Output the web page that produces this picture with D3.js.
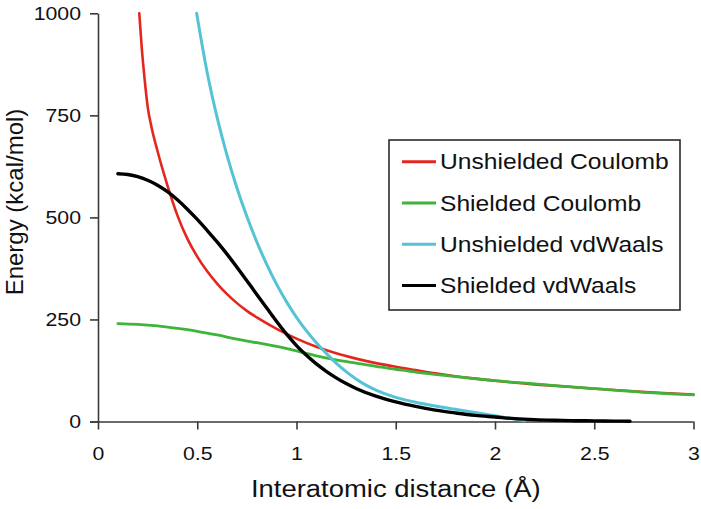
<!DOCTYPE html>
<html>
<head>
<meta charset="utf-8">
<script src="https://cdn.jsdelivr.net/npm/d3@7"></script>
<style>
  html, body { margin: 0; padding: 0; background: #fff; }
  svg { display: block; font-family: "Liberation Sans", Arial, sans-serif; }
</style>
</head>
<body>
<svg id="chart" width="701" height="509"></svg>
<script>
// ---------------- data ----------------
const seriesNames = ["Unshielded Coulomb", "Shielded Coulomb", "Unshielded vdWaals", "Shielded vdWaals"];
const seriesColors = ["#e5261e", "#3fb43a", "#55c3d5", "#000000"];

const unshieldedCoulombX = [0.208, 0.22, 0.235, 0.25, 0.27, 0.3, 0.35, 0.4, 0.45, 0.5, 0.55, 0.6, 0.65, 0.7, 0.75, 0.8, 0.9, 1.0, 1.1, 1.2, 1.3, 1.4, 1.5, 1.6, 1.7, 1.8, 1.9, 2.0, 2.2, 2.4, 2.6, 2.8, 3.0];
const unshieldedCoulombY = [1000, 918, 838, 772, 720, 662, 578, 505, 448, 404, 368, 338, 312, 290, 271, 255, 227, 203, 183, 167, 154, 143, 134, 126, 118, 111, 105, 100, 91, 84, 77, 71, 66];

const shieldedCoulombX = [0.1, 0.2, 0.3, 0.4, 0.5, 0.6, 0.7, 0.8, 0.9, 1.0, 1.1, 1.2, 1.3, 1.4, 1.5, 1.6, 1.8, 2.0, 2.2, 2.4, 2.6, 2.8, 3.0];
const shieldedCoulombY = [240, 238, 234, 228, 221, 212, 202, 193, 184, 173, 161, 151, 143, 135, 128, 121, 110, 100, 92, 84, 77, 70, 65];

const unshieldedVdwX = [0.497, 0.55, 0.6, 0.65, 0.7, 0.75, 0.8, 0.85, 0.9, 0.95, 1.0, 1.05, 1.1, 1.15, 1.2, 1.25, 1.3, 1.35, 1.4, 1.5, 1.6, 1.7, 1.8, 1.9, 2.0, 2.1, 2.15];
const unshieldedVdwY = [1000, 855, 745, 652, 572, 502, 440, 385, 336, 293, 255, 222, 193, 167, 143, 122, 104, 89, 77, 59, 47, 38, 30, 22, 14, 6, 2];

const shieldedVdwX = [0.1, 0.15, 0.2, 0.25, 0.3, 0.35, 0.4, 0.45, 0.5, 0.55, 0.6, 0.65, 0.7, 0.75, 0.8, 0.85, 0.9, 0.95, 1.0, 1.05, 1.1, 1.15, 1.2, 1.25, 1.3, 1.4, 1.5, 1.6, 1.7, 1.8, 1.9, 2.0, 2.1, 2.2, 2.3, 2.4, 2.5, 2.6, 2.68];
const shieldedVdwY = [607, 605, 600, 591, 579, 563, 543, 520, 495, 468, 440, 410, 378, 345, 311, 278, 245, 214, 186, 162, 141, 123, 107, 93, 81, 62, 48, 37, 28, 21, 15, 11, 7, 4.5, 3, 2, 1.5, 1, 0.7];

const xTicks = [0, 0.5, 1, 1.5, 2, 2.5, 3];
const xTickLabels = ["0", "0.5", "1", "1.5", "2", "2.5", "3"];
const yTicks = [0, 250, 500, 750, 1000];
const yTickLabels = ["0", "250", "500", "750", "1000"];
const xTitle = "Interatomic distance (Å)";
const yTitle = "Energy (kcal/mol)";

// ---------------- drawing ----------------
const SX = 1.12; // horizontal stretch of the original raster text
const svg = d3.select("#chart");
const x = d3.scaleLinear().domain([0, 3]).range([98, 693.5]);
const y = d3.scaleLinear().domain([0, 1000]).range([421.5, 13.3]);

const axisColor = "#3a3a3a";

// x axis
const gx = svg.append("g").attr("transform", `translate(0,${y(0)})`)
  .call(d3.axisBottom(x).tickValues(xTicks).tickFormat((d, i) => xTickLabels[i]).tickSize(8).tickPadding(17).tickSizeOuter(0));
// y axis
const gy = svg.append("g").attr("transform", `translate(${x(0)},0)`)
  .call(d3.axisLeft(y).tickValues(yTicks).tickFormat((d, i) => yTickLabels[i]).tickSize(8).tickSizeOuter(0));

[gx, gy].forEach(g => {
  g.select(".domain").attr("stroke", axisColor).attr("stroke-width", 1.6);
  g.selectAll(".tick line").attr("stroke", axisColor).attr("stroke-width", 1.6);
  g.selectAll(".tick text").attr("fill", "#111").attr("font-size", 19)
    .attr("font-family", '"Liberation Sans", Arial, sans-serif')
    .attr("transform", `scale(${SX},1)`);
});
gy.selectAll(".tick text").attr("x", -17 / SX);
gx.select(".domain").attr("d", `M${x(0) - 8},0.5H${x(3)}`);

// axis titles
svg.append("text")
  .attr("transform", `translate(${(x(0) + x(3)) / 2},497) scale(${SX},1)`)
  .attr("text-anchor", "middle").attr("font-size", 24.5).attr("fill", "#111")
  .text(xTitle);
svg.append("text")
  .attr("transform", `translate(22.5,202) rotate(-90)`)
  .attr("text-anchor", "middle").attr("font-size", 24).attr("fill", "#111")
  .text(yTitle);

// lines
const seriesData = [
  d3.zip(unshieldedCoulombX, unshieldedCoulombY),
  d3.zip(shieldedCoulombX, shieldedCoulombY),
  d3.zip(unshieldedVdwX, unshieldedVdwY),
  d3.zip(shieldedVdwX, shieldedVdwY)
];
const widths = [2.6, 2.8, 3, 3.4];
const line = d3.line().x(d => x(d[0])).y(d => y(d[1])).curve(d3.curveMonotoneX);
seriesData.forEach((pts, i) => {
  svg.append("path").datum(pts)
    .attr("d", line)
    .attr("fill", "none")
    .attr("stroke", seriesColors[i])
    .attr("stroke-width", widths[i])
    .attr("stroke-linejoin", "round")
    .attr("stroke-linecap", "round");
});

// legend
const legendRow = d3.scalePoint().domain(seriesNames).range([161.7, 285.5]);
svg.append("rect")
  .attr("x", 389).attr("y", 140).attr("width", 291).attr("height", 170)
  .attr("fill", "#fff").attr("stroke", "#2a2a2a").attr("stroke-width", 1.6);
seriesNames.forEach((name, i) => {
  const yy = legendRow(name);
  svg.append("line").attr("x1", 402).attr("x2", 436).attr("y1", yy).attr("y2", yy)
    .attr("stroke", seriesColors[i]).attr("stroke-width", 3);
  svg.append("text")
    .attr("transform", `translate(440,${yy + 7.6}) scale(${SX},1)`)
    .attr("font-size", 22).attr("fill", "#111")
    .text(name);
});
</script>
</body>
</html>
